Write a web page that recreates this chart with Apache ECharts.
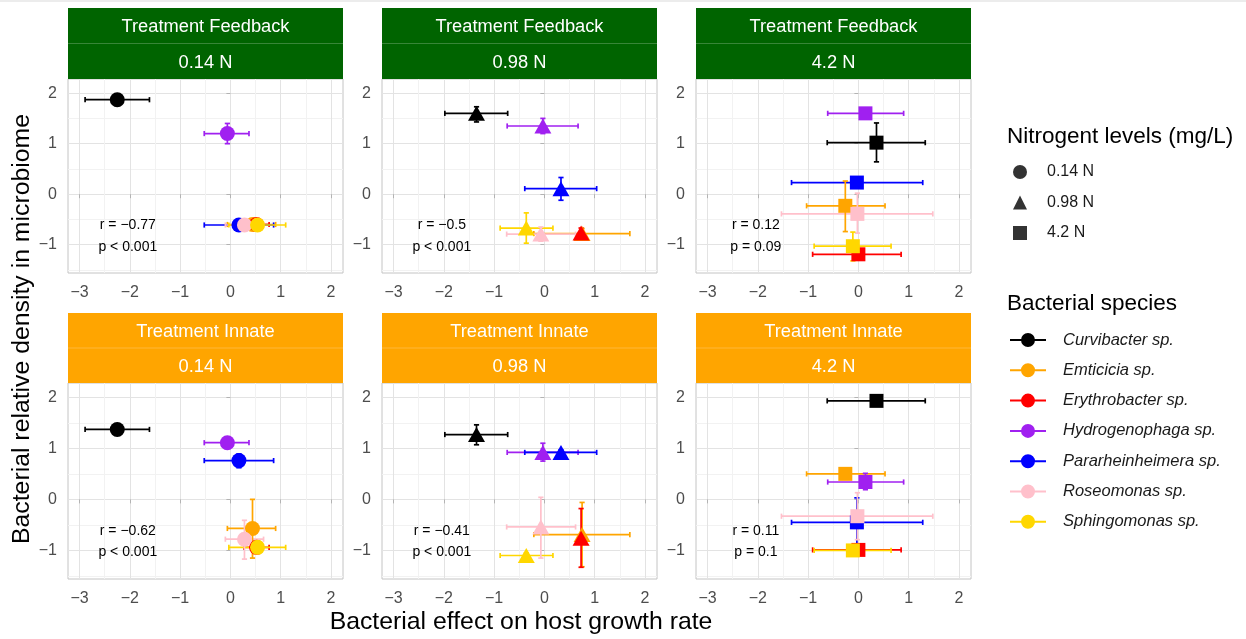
<!DOCTYPE html>
<html>
<head>
<meta charset="utf-8">
<script src="https://cdn.jsdelivr.net/npm/echarts@6/dist/echarts.min.js"></script>
<style>
  html, body { margin: 0; padding: 0; background: #ffffff; }
  #chart { width: 1246px; height: 639px; }
</style>
</head>
<body>
<div id="chart"></div>
<script>
// ---- data -------------------------------------------------------------
const species = ['Curvibacter sp.', 'Emticicia sp.', 'Erythrobacter sp.', 'Hydrogenophaga sp.',
                 'Pararheinheimera sp.', 'Roseomonas sp.', 'Sphingomonas sp.'];
const speciesColors = ['#000000', '#FFA500', '#FF0000', '#A020F0', '#0000FF', '#FFC0CB', '#FFD700'];

const treatments = ['Treatment Feedback', 'Treatment Innate'];
const nitrogenLevels = ['0.14 N', '0.98 N', '4.2 N'];

const xTicks = [-3, -2, -1, 0, 1, 2];
const xMinorTicks = [-2.5, -1.5, -0.5, 0.5, 1.5];
const yTicks = [-1, 0, 1, 2];
const yMinorTicks = [-1.5, -0.5, 0.5, 1.5];

// bacterial effect on host growth rate (species order), mean with interval bounds
const growth014   = [-2.25,  0.44,  0.52, -0.06,  0.17,  0.28,  0.54];
const growthLo014 = [-2.89, -0.06,  0.27, -0.52, -0.52, -0.10, -0.03];
const growthHi014 = [-1.61,  0.90,  0.77,  0.37,  0.86,  0.66,  1.10];

const growth098   = [-1.35,  0.75,  0.73, -0.03,  0.33, -0.07, -0.36];
const growthLo098 = [-1.98, -0.21,  0.73, -0.74, -0.39, -0.75, -0.88];
const growthHi098 = [-0.73,  1.70,  0.73,  0.67,  1.04,  0.62,  0.17];

const growth42    = [ 0.36, -0.26,  0.00,  0.14, -0.03, -0.02, -0.11];
const growthLo42  = [-0.62, -1.03, -0.91, -0.61, -1.33, -1.53, -0.88];
const growthHi42  = [ 1.33,  0.53,  0.85,  0.90,  1.28,  1.48,  0.65];

// bacterial relative density in microbiome, treatment Feedback
const densFeedback014   = [ 1.87, -0.60, -0.60,  1.20, -0.61, -0.61, -0.61];
const densLoFeedback014 = [ 1.82, -0.66, -0.65,  1.00, -0.69, -0.71, -0.67];
const densHiFeedback014 = [ 1.92, -0.54, -0.55,  1.40, -0.53, -0.51, -0.55];

const densFeedback098   = [ 1.60, -0.78, -0.77,  1.35,  0.11, -0.79, -0.67];
const densLoFeedback098 = [ 1.43, -0.88, -0.87,  1.20, -0.12, -0.93, -0.97];
const densHiFeedback098 = [ 1.73, -0.68, -0.67,  1.50,  0.33, -0.65, -0.37];

const densFeedback42    = [ 1.02, -0.23, -1.19,  1.60,  0.23, -0.39, -1.03];
const densLoFeedback42  = [ 0.64, -0.74, -1.27,  1.55,  0.17, -0.77, -1.32];
const densHiFeedback42  = [ 1.41,  0.26, -1.11,  1.65,  0.29,  0.02, -0.75];

// bacterial relative density in microbiome, treatment Innate
const densInnate014   = [ 1.37, -0.57, -0.94,  1.11,  0.76, -0.78, -0.94];
const densLoInnate014 = [ 1.32, -1.15, -0.99,  1.05,  0.62, -1.17, -0.99];
const densHiInnate014 = [ 1.42,  0.00, -0.89,  1.17,  0.89, -0.41, -0.89];

const densInnate098   = [ 1.27, -0.69, -0.76,  0.92,  0.92, -0.54, -1.10];
const densLoInnate098 = [ 1.07, -1.32, -1.33,  0.75,  0.87, -1.15, -1.15];
const densHiInnate098 = [ 1.46, -0.06, -0.18,  1.10,  0.97,  0.04, -1.05];

const densInnate42    = [ 1.93,  0.50, -0.99,  0.34, -0.45, -0.33, -1.00];
const densLoInnate42  = [ 1.88,  0.44, -1.05,  0.19, -0.93, -0.79, -1.06];
const densHiInnate42  = [ 1.98,  0.56, -0.93,  0.51,  0.03,  0.13, -0.94];

// correlation annotations per panel (rows: treatment, columns: nitrogen level)
const corrR = [['r = \u22120.77', 'r = \u22120.5', 'r = 0.12'],
               ['r = \u22120.62', 'r = \u22120.41', 'r = 0.11']];
const corrP = [['p < 0.001', 'p < 0.001', 'p = 0.09'],
               ['p < 0.001', 'p < 0.001', 'p = 0.1']];

const xTitle = 'Bacterial effect on host growth rate';
const yTitle = 'Bacterial relative density in microbiome';
const nitrogenLegendTitle = 'Nitrogent levels (mg/L)';
const speciesLegendTitle = 'Bacterial species';

// ---- layout & style -----------------------------------------------------
const FONT = '"Liberation Sans", Arial, Helvetica, sans-serif';
const stripColors = ['#006400', '#FFA500'];
const nitrogenSymbols = ['circle', 'triangle', 'rect'];
const symbolSizes = [15, [17, 15], 14];
const panelLeft = [68, 382, 696];
const panelWidth = 275;
const plotTop = [79, 383];
const plotHeight = [194, 196];
const stripTop = [8, 313];
const stripHeight = [71, 70];
const xRange = [-3.23, 2.24];
const yRange = [-1.56, 2.28];
const annotX = -2.04;
const annotY = [-0.62, -1.04];
const CAP = 2.6;
const BAR_WIDTH = 1.7;

const growthByLevel = [
  [growth014, growthLo014, growthHi014],
  [growth098, growthLo098, growthHi098],
  [growth42, growthLo42, growthHi42]
];
const densityByPanel = [
  [[densFeedback014, densLoFeedback014, densHiFeedback014],
   [densFeedback098, densLoFeedback098, densHiFeedback098],
   [densFeedback42, densLoFeedback42, densHiFeedback42]],
  [[densInnate014, densLoInnate014, densHiInnate014],
   [densInnate098, densLoInnate098, densHiInnate098],
   [densInnate42, densLoInnate42, densHiInnate42]]
];

const minusFmt = v => (v < 0 ? '\u2212' + Math.abs(v) : String(v));

// horizontal interval bar with end caps
function hBar(params, api) {
  const lo = api.value(2), hi = api.value(3);
  if (!(hi > lo)) return null;
  const y = api.value(1);
  const a = api.coord([lo, y]), b = api.coord([hi, y]);
  const style = { stroke: speciesColors[api.value(6)], lineWidth: BAR_WIDTH };
  return { type: 'group', children: [
    { type: 'line', shape: { x1: a[0], y1: a[1], x2: b[0], y2: b[1] }, style },
    { type: 'line', shape: { x1: a[0], y1: a[1] - CAP, x2: a[0], y2: a[1] + CAP }, style },
    { type: 'line', shape: { x1: b[0], y1: b[1] - CAP, x2: b[0], y2: b[1] + CAP }, style }
  ]};
}

// vertical interval bar with end caps
function vBar(params, api) {
  const lo = api.value(4), hi = api.value(5);
  if (!(hi > lo)) return null;
  const x = api.value(0);
  const a = api.coord([x, lo]), b = api.coord([x, hi]);
  const style = { stroke: speciesColors[api.value(6)], lineWidth: BAR_WIDTH };
  return { type: 'group', children: [
    { type: 'line', shape: { x1: a[0], y1: a[1], x2: b[0], y2: b[1] }, style },
    { type: 'line', shape: { x1: a[0] - CAP, y1: a[1], x2: a[0] + CAP, y2: a[1] }, style },
    { type: 'line', shape: { x1: b[0] - CAP, y1: b[1], x2: b[0] + CAP, y2: b[1] }, style }
  ]};
}

const grids = [], xAxes = [], yAxes = [], series = [], graphics = [];

graphics.push({ type: 'rect', shape: { x: 0, y: 0, width: 1246, height: 2 }, style: { fill: '#ececec' }, silent: true });

treatments.forEach((treatment, row) => {
  nitrogenLevels.forEach((level, col) => {
    const k = row * 3 + col;
    const left = panelLeft[col];
    grids.push({ left, top: plotTop[row], width: panelWidth, height: plotHeight[row],
                 show: true, borderColor: '#c4c4c4', borderWidth: 1, backgroundColor: '#ffffff' });

    // major axis (ticks, labels, major grid lines)
    xAxes.push({
      type: 'value', gridIndex: k, min: xRange[0], max: xRange[1], position: 'bottom',
      axisLine: { show: false },
      axisTick: { show: true, length: 4, customValues: xTicks, lineStyle: { color: '#b3b3b3', width: 1 } },
      axisLabel: { customValues: xTicks, margin: 12, color: '#4d4d4d', fontSize: 16, fontFamily: FONT, formatter: minusFmt },
      splitLine: { show: true, lineStyle: { color: '#e3e3e3', width: 1 } }
    });
    // companion axis carrying the half-unit grid lines
    xAxes.push({
      type: 'value', gridIndex: k, min: xRange[0], max: xRange[1], position: 'top',
      axisLine: { show: false }, axisLabel: { show: false },
      axisTick: { show: false, customValues: xMinorTicks },
      splitLine: { show: true, lineStyle: { color: '#f2f2f2', width: 1 } }
    });
    yAxes.push({
      type: 'value', gridIndex: k, min: yRange[0], max: yRange[1], position: 'left',
      axisLine: { show: false },
      axisTick: { show: true, length: 4, customValues: yTicks, lineStyle: { color: '#b3b3b3', width: 1 } },
      axisLabel: { customValues: yTicks, margin: 11, color: '#4d4d4d', fontSize: 16, fontFamily: FONT, formatter: minusFmt },
      splitLine: { show: true, lineStyle: { color: '#e3e3e3', width: 1 } }
    });
    yAxes.push({
      type: 'value', gridIndex: k, min: yRange[0], max: yRange[1], position: 'right',
      axisLine: { show: false }, axisLabel: { show: false },
      axisTick: { show: false, customValues: yMinorTicks },
      splitLine: { show: true, lineStyle: { color: '#f2f2f2', width: 1 } }
    });

    const [g, gLo, gHi] = growthByLevel[col];
    const [d, dLo, dHi] = densityByPanel[row][col];
    const rows = species.map((_, s) => [g[s], d[s], gLo[s], gHi[s], dLo[s], dHi[s], s]);
    const axisRef = { xAxisIndex: 2 * k, yAxisIndex: 2 * k };

    series.push(Object.assign({ type: 'custom', z: 2, silent: true, renderItem: hBar, data: rows,
                                encode: { x: 0, y: 1 } }, axisRef));
    series.push(Object.assign({ type: 'custom', z: 3, silent: true, renderItem: vBar, data: rows,
                                encode: { x: 0, y: 1 } }, axisRef));
    species.forEach((name, s) => {
      series.push(Object.assign({
        type: 'scatter', name, z: 4, silent: true,
        symbol: nitrogenSymbols[col], symbolSize: symbolSizes[col],
        itemStyle: { color: speciesColors[s], opacity: 1 },
        data: [[g[s], d[s]]]
      }, axisRef));
    });

    const lines = [corrR[row][col], corrP[row][col]];
    series.push(Object.assign({
      type: 'custom', z: 5, silent: true,
      data: annotY.map(y => [annotX, y]),
      renderItem: (params, api) => {
        const c = api.coord([api.value(0), api.value(1)]);
        return { type: 'text', x: c[0], y: c[1],
                 style: { text: lines[params.dataIndex], fill: '#000000', fontSize: 14, fontFamily: FONT,
                          align: 'center', verticalAlign: 'middle' } };
      }
    }, axisRef));

    // facet strips
    const sTop = stripTop[row], sH = stripHeight[row];
    graphics.push({ type: 'rect', silent: true, shape: { x: left, y: sTop, width: panelWidth, height: sH },
                    style: { fill: stripColors[row] } });
    graphics.push({ type: 'line', silent: true,
                    shape: { x1: left, y1: sTop + sH / 2, x2: left + panelWidth, y2: sTop + sH / 2 },
                    style: { stroke: 'rgba(255,255,255,0.22)', lineWidth: 1 } });
    graphics.push({ type: 'text', silent: true, x: left + panelWidth / 2, y: sTop + sH * 0.265,
                    style: { text: treatment, fill: '#ffffff', fontSize: 18.3, fontFamily: FONT,
                             align: 'center', verticalAlign: 'middle' } });
    graphics.push({ type: 'text', silent: true, x: left + panelWidth / 2, y: sTop + sH * 0.775,
                    style: { text: level, fill: '#ffffff', fontSize: 18.3, fontFamily: FONT,
                             align: 'center', verticalAlign: 'middle' } });
  });
});

// shape key entries (empty series so the legend can list them)
nitrogenLevels.forEach((name, i) => {
  series.push({ type: 'scatter', name, xAxisIndex: 0, yAxisIndex: 0, symbol: nitrogenSymbols[i],
                itemStyle: { color: '#000000' }, data: [] });
});

// axis titles
graphics.push({ type: 'text', silent: true, x: 521, y: 622,
                style: { text: xTitle, fill: '#000000', fontSize: 24.8, fontFamily: FONT,
                         align: 'center', verticalAlign: 'middle' } });
graphics.push({ type: 'text', silent: true, x: 22, y: 329, rotation: Math.PI / 2,
                style: { text: yTitle, fill: '#000000', fontSize: 24.8, fontFamily: FONT,
                         align: 'center', verticalAlign: 'middle' } });
// legend titles
graphics.push({ type: 'text', silent: true, x: 1007, y: 137,
                style: { text: nitrogenLegendTitle, fill: '#000000', fontSize: 22.5, fontFamily: FONT,
                         align: 'left', verticalAlign: 'middle' } });
graphics.push({ type: 'text', silent: true, x: 1007, y: 304,
                style: { text: speciesLegendTitle, fill: '#000000', fontSize: 22.5, fontFamily: FONT,
                         align: 'left', verticalAlign: 'middle' } });

const speciesIcon = 'path://M0,6 H36 V8 H0 Z M11,7 A7,7 0 1 1 25,7 A7,7 0 1 1 11,7 Z';

const chart = echarts.init(document.getElementById('chart'), null, { renderer: 'canvas' });
chart.setOption({
  animation: false,
  backgroundColor: '#ffffff',
  grid: grids,
  xAxis: xAxes,
  yAxis: yAxes,
  legend: [
    {
      orient: 'vertical', left: 1013, top: 163, padding: 0, itemGap: 12.5,
      itemWidth: 14, itemHeight: 14, selectedMode: false,
      data: nitrogenLevels.map((name, i) => ({ name, icon: nitrogenSymbols[i] })),
      textStyle: { fontFamily: FONT, fontSize: 16, color: '#1a1a1a', lineHeight: 18, padding: [0, 0, 0, 15] }
    },
    {
      orient: 'vertical', left: 1010, top: 331, padding: 0, itemGap: 12.3,
      itemWidth: 36, itemHeight: 14, selectedMode: false,
      data: species.map(name => ({ name, icon: speciesIcon })),
      textStyle: { fontFamily: FONT, fontSize: 16.5, fontStyle: 'italic', color: '#1a1a1a', lineHeight: 18, padding: [0, 0, 0, 12] }
    }
  ],
  graphic: graphics,
  series
});
</script>
</body>
</html>
